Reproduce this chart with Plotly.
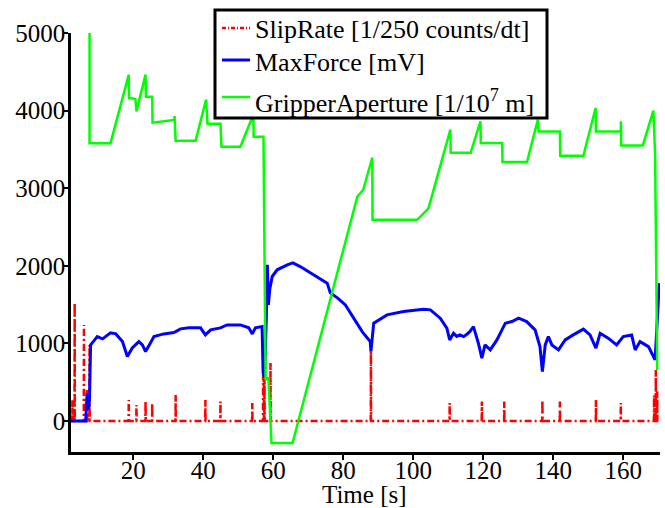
import plotly.graph_objects as go

# ---- data ----
slip_spike_t = [2.6, 3.25, 5.9, 6.8, 7.5, 18.7, 20.9, 23.5, 25.4, 32.1, 40.6, 44.9, 54.0,
                57.1, 57.3, 57.5, 59.2, 87.9, 110.4, 119.6, 126.0, 136.9, 141.9, 152.2,
                159.3, 168.8, 169.3, 169.7]
slip_spike_v = [270, 1522, 1238, 400, 980, 270, 206, 250, 232, 335, 270, 250, 232,
                593, 480, 560, 748, 894, 232, 250, 250, 270, 250, 270,
                232, 330, 658, 380]
slip_start, slip_end = 2.2, 170.5

force_t = [2.2, 6.4, 6.8, 7.25, 7.5, 7.8, 9.7, 11.2, 13.5, 15.0, 16.9, 18.3, 19.7, 21.6,
           22.6, 23.5, 24.9, 25.9, 28.7, 31.6, 33.5, 35.9, 39.2, 40.6, 42.1, 44.9, 46.8,
           50.6, 53.0, 54.0, 54.9, 56.8, 57.1, 57.5, 58.0, 58.3, 58.6, 59.0, 59.7, 61.1,
           64.0, 65.6, 67.7, 70.6, 73.5, 75.4, 76.3, 78.5, 80.6, 82.0, 83.4, 85.4, 87.7,
           87.9, 88.7, 92.5, 97.2, 102.9, 104.9, 107.7, 109.6, 110.4, 111.5, 112.4, 113.3,
           114.4, 115.4, 116.3, 117.2, 118.6, 119.6, 120.5, 122.0, 123.9, 126.3, 128.2,
           130.1, 132.4, 134.8, 136.2, 136.9, 137.7, 138.6, 139.6, 141.5, 143.4, 145.7,
           148.6, 150.5, 152.2, 153.4, 155.7, 158.1, 160.0, 162.4, 163.4, 164.8, 167.2,
           169.1, 170.3]
force_v = [0, 0, 360, 150, 300, 980, 1087, 1058, 1135, 1122, 1023, 830, 940, 1023,
           980, 894, 1006, 1087, 1122, 1139, 1187, 1200, 1200, 1109, 1174, 1200, 1238,
           1238, 1200, 1122, 1200, 1216, 619, 567, 1300, 2012, 1496, 1700, 1862, 1948,
           2012, 2038, 1990, 1909, 1819, 1776, 1651, 1580, 1496, 1400, 1303, 1152, 1023,
           894, 1260, 1367, 1410, 1440, 1432, 1325, 1196, 1045, 1131, 1090, 1110,
           1087, 1120, 1160, 1216, 1002, 809, 980, 916, 1045, 1260, 1281,
           1325, 1281, 1174, 958, 636, 980, 1087, 980, 916, 1045, 1109,
           1183, 1109, 938, 1131, 1067, 980, 1087, 1109, 916, 1023, 958,
           787, 1776]

aperture_t = [7.5, 7.5, 13.5, 18.7, 18.75, 20.6, 20.9, 23.5, 23.6, 25.4, 25.5, 31.7, 31.8,
              32.1, 37.8, 40.8, 41.2, 44.9, 45.2, 50.6, 54.3, 54.4, 57.2, 57.8, 58.6, 59.5,
              65.5, 82.6, 84.0, 85.7, 88.3, 88.35, 101.1, 104.3, 110.6, 110.7, 116.4, 119.2,
              119.3, 125.4, 125.5, 132.5, 135.6, 135.8, 141.9, 142.0, 148.6, 152.1, 152.2,
              159.3, 159.35, 159.4, 165.6, 168.6, 169.1, 169.7]
aperture_v = [5000, 3580, 3580, 4463, 4167, 4150, 3990, 4463, 4180, 4180, 3845, 3880, 3930,
              3612, 3612, 4141, 3831, 3831, 3535, 3535, 3950, 3664, 3664, 530, 560, -284,
              -284, 2657, 2890, 2980, 3393, 2593, 2593, 2735, 3754, 3457, 3457, 3861,
              3582, 3582, 3337, 3337, 3883, 3732, 3732, 3418, 3418, 4034, 3732,
              3732, 3861, 3551, 3551, 3999, 3431, 658]

x_ticks = [20, 40, 60, 80, 100, 120, 140, 160]
y_ticks = [0, 1000, 2000, 3000, 4000, 5000]

series_names = ["SlipRate [1/250 counts/dt]", "MaxForce [mV]",
                "GripperAperture [1/10<sup>7</sup> m]"]
series_colors = ["#ff0000", "#0000ff", "#00ff00"]
series_dash = ["7px,3px,2px,3px", "solid", "solid"]
series_width = [2.5, 3, 2.5]

# build SlipRate polyline (baseline with narrow spikes)
slip_t, slip_v = [slip_start], [0]
for t, v in zip(slip_spike_t, slip_spike_v):
    slip_t += [t - 0.05, t, t + 0.05]
    slip_v += [0, v, 0]
slip_t.append(slip_end)
slip_v.append(0)

font_family = "Liberation Serif"

fig = go.Figure()
for (xs, ys), name, col, dash, w in zip([(slip_t, slip_v), (force_t, force_v),
                                          (aperture_t, aperture_v)],
                                         series_names, series_colors, series_dash,
                                         series_width):
    fig.add_trace(go.Scatter(x=xs, y=ys, mode="lines", name=name,
                             line=dict(color=col, width=w, dash=dash)))

# ---- legend box (paper coordinates; plot area is 589 x 419 px) ----
PW, PH, L, B = 589.0, 419.0, 71.0, 452.0
def px_x(p):
    return (p - L) / PW
def px_y(p):
    return (B - p) / PH

shapes = [dict(type="rect", xref="paper", yref="paper",
               x0=px_x(215), x1=px_x(547), y0=px_y(118), y1=px_y(10),
               fillcolor="white", line=dict(color="black", width=3), layer="above")]
annotations = []
line_rows = [28, 60, 97]
text_rows = [30, 62, 101]
for name, col, dash, w, ly, ty in zip(series_names, series_colors, series_dash,
                                     series_width, line_rows, text_rows):
    shapes.append(dict(type="line", xref="paper", yref="paper",
                       x0=px_x(222), x1=px_x(250), y0=px_y(ly), y1=px_y(ly),
                       line=dict(color=col, width=w, dash=("4px,2px,1px,2px" if dash != "solid" else "solid")),
                       layer="above"))
    annotations.append(dict(text=name, xref="paper", yref="paper",
                            x=px_x(253), y=px_y(ty), xanchor="left", yanchor="middle",
                            showarrow=False,
                            font=dict(family=font_family, size=26, color="black")))

annotations.append(dict(text="Time [s]", x=0.499, y=px_y(494), xref="paper", yref="paper",
                        xanchor="center", yanchor="middle", showarrow=False,
                        font=dict(family=font_family, size=25, color="black")))

fig.update_layout(
    width=665, height=508,
    margin=dict(l=71, r=5, t=33, b=56),
    paper_bgcolor="white", plot_bgcolor="white",
    font=dict(family=font_family, size=25, color="black"),
    showlegend=False,
    xaxis=dict(range=[2.2, 170.5], tickvals=x_ticks, showgrid=False, zeroline=False,
               showline=True, linecolor="black", linewidth=2.5, automargin=False,
               ticks="outside", ticklen=5, tickwidth=2, tickcolor="black",
               ticklabelstandoff=-11,
               tickfont=dict(family=font_family, size=25)),
    yaxis=dict(range=[-400, 5000], tickvals=y_ticks, showgrid=False, zeroline=False,
               showline=True, linecolor="black", linewidth=2.5, automargin=False,
               ticks="outside", ticklen=5, tickwidth=2, tickcolor="black",
               ticklabelstandoff=-7,
               tickfont=dict(family=font_family, size=25)),
    shapes=shapes,
    annotations=annotations,
)

fig.write_html("out.html", config={"displayModeBar": False},
               post_script="document.body.style.margin='0';")
